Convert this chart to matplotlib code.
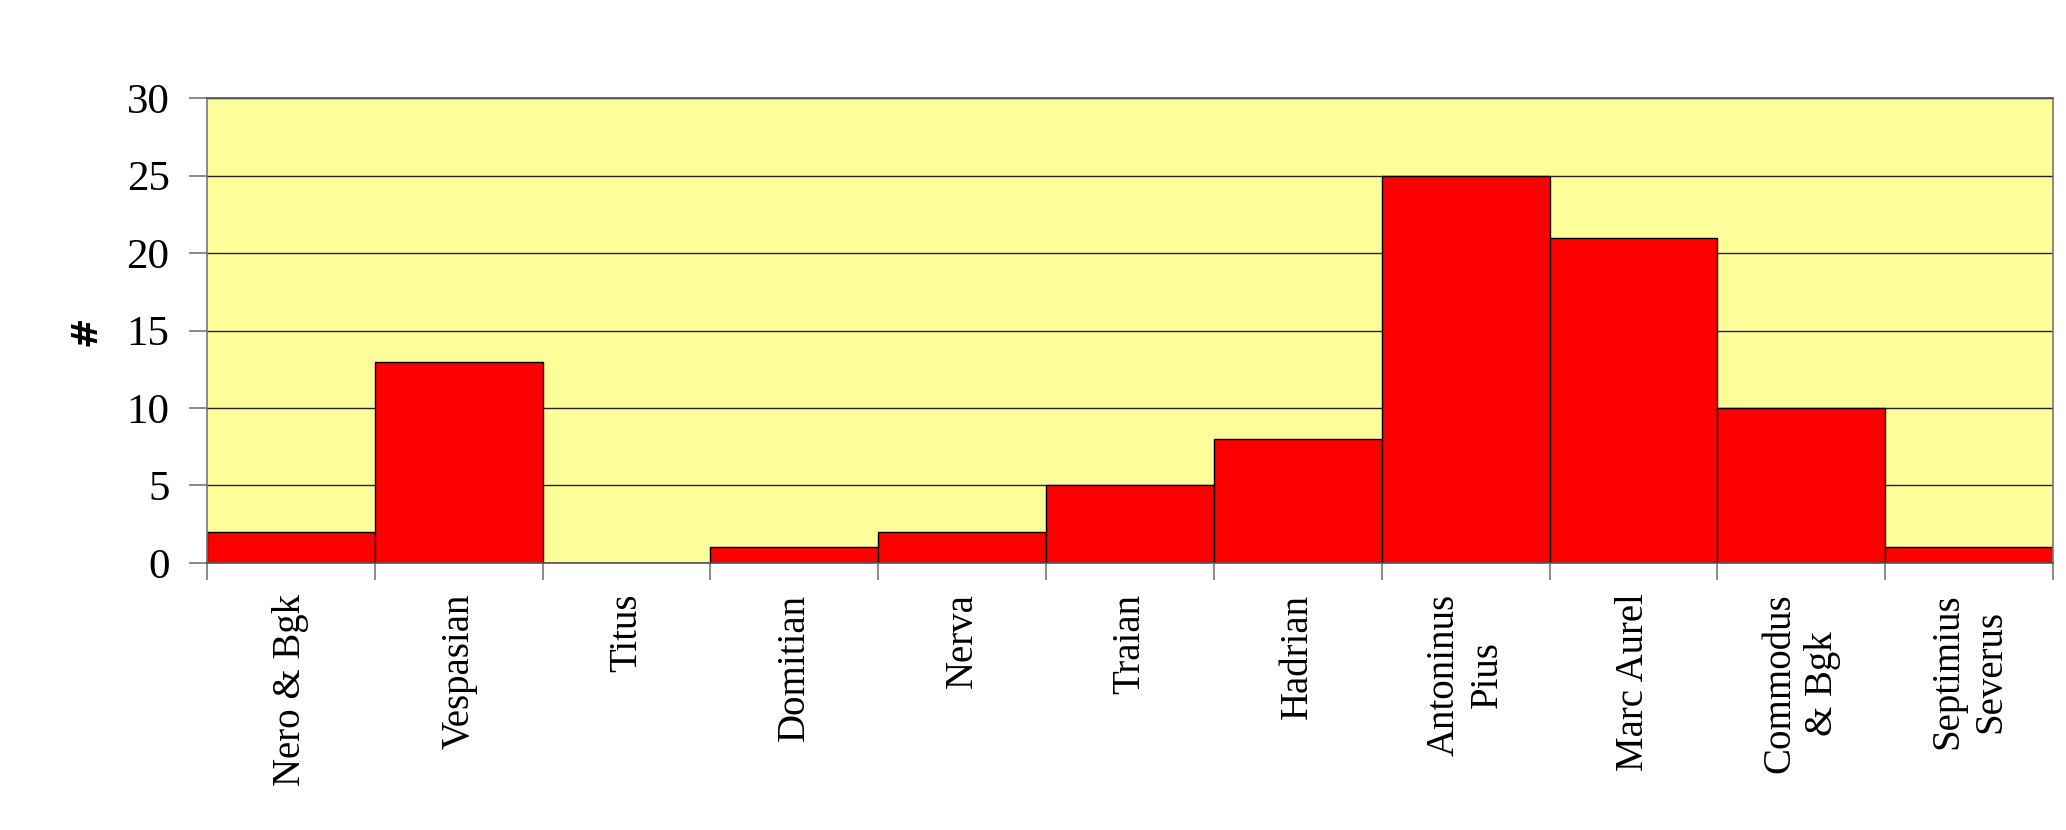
import numpy as np
import matplotlib.pyplot as plt

emperors = ["Nero & Bgk", "Vespasian", "Titus", "Domitian", "Nerva", "Traian",
            "Hadrian", "Antoninus\nPius", "Marc Aurel", "Commodus\n& Bgk",
            "Septimius\nSeverus"]
counts = [2, 13, 0, 1, 2, 5, 8, 25, 21, 10, 1]
yticks = [0, 5, 10, 15, 20, 25, 30]

plt.rcParams["font.family"] = ["Liberation Serif", "DejaVu Serif"]

fig = plt.figure(figsize=(20.66, 8.30), dpi=100)
ax = fig.add_axes([0.1002, 0.3217, 0.8935, 0.5602])
ax.set_facecolor("#FDFD99")

x = np.arange(len(emperors))
ax.bar(x, counts, width=1.0, color="#FF0000", edgecolor="black", linewidth=1.0, zorder=3)

ax.set_xlim(-0.5, len(emperors) - 0.5)
ax.set_ylim(0, 30)
ax.set_yticks(yticks)
ax.yaxis.grid(True, color="#222222", linewidth=1.0, zorder=1)

# labels centred on bars, tick marks at the bar boundaries
ax.set_xticks(x)
ax.set_xticklabels(emperors, rotation=90, fontsize=28, ha="center", va="top",
                   multialignment="center", linespacing=1.2)
ax.set_xticks(np.arange(len(emperors) + 1) - 0.5, minor=True)
ax.tick_params(axis="x", which="major", length=0, pad=22)
ax.tick_params(axis="x", which="minor", length=12, width=1.2, color="#777777")
ax.tick_params(axis="y", length=13, width=1.2, color="#777777", labelsize=31, pad=14)

for side in ("top", "bottom"):
    ax.spines[side].set_color("#555555")
for side in ("left", "right"):
    ax.spines[side].set_color("#777777")
for s in ax.spines.values():
    s.set_linewidth(1.2)
    s.set_zorder(4)

ax.set_ylabel("#", fontsize=26, fontweight="bold", family=["DejaVu Sans"],
              ha="center", va="center")
ax.yaxis.set_label_coords(-0.066, 0.5)

plt.savefig("out.png", dpi=100)
